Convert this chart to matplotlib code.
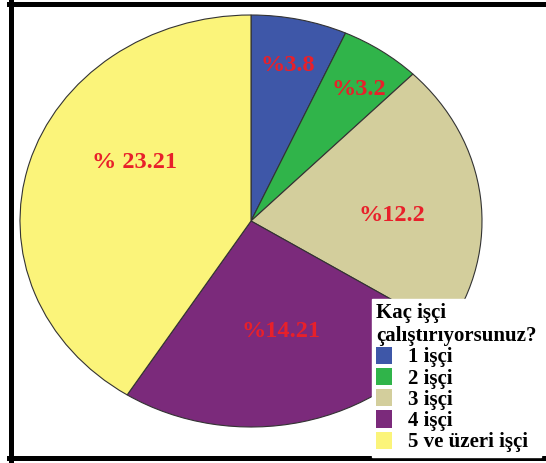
import matplotlib.pyplot as plt
import numpy as np
from matplotlib.lines import Line2D

categories = ["1 işçi", "2 işçi", "3 işçi", "4 işçi", "5 ve üzeri işçi"]
values = [3.8, 3.2, 12.2, 14.21, 23.21]
pct_labels = ["%3.8", "%3.2", "%12.2", "%14.21", "% 23.21"]
colors = ["#3e57a8", "#30b44a", "#d3ce9c", "#7b2a7b", "#fbf47a"]

# label placement: radius fraction and angle tweak (deg) per wedge
label_r = [0.77, 0.79, 0.61, 0.55, 0.58]
label_dang = [0, -2, -4, 1, -13]

W, H = 546, 463
fig = plt.figure(figsize=(W / 100, H / 100), dpi=100)
ax = fig.add_axes([20 / W, 1 - 427 / H, 462 / W, 412 / H])

wedges, _ = ax.pie(values, colors=colors, startangle=90, counterclock=False,
                   wedgeprops=dict(edgecolor="#333333", linewidth=0.8))
ax.set_aspect("auto")
ax.set_xlim(-1, 1)
ax.set_ylim(-1, 1)
ax.axis("off")

for w, txt, r, da in zip(wedges, pct_labels, label_r, label_dang):
    ang = np.deg2rad((w.theta1 + w.theta2) / 2 + da)
    ax.text(r * np.cos(ang), r * np.sin(ang), txt, ha="center", va="center",
            color="#e8202a", fontsize=17.5, fontweight="bold", family="Liberation Serif")

fp = dict(family="Liberation Serif", weight="bold", size=15)
leg = fig.legend(wedges, categories, title="Kaç işçi\nçalıştırıyorsunuz?",
                 loc="upper left", bbox_to_anchor=(372 / W, 1 - 299 / H),
                 frameon=True, fancybox=False, framealpha=1, edgecolor="white",
                 prop=fp, title_fontproperties=fp,
                 handlelength=0.75, handleheight=0.9, handletextpad=0.8,
                 labelspacing=0.02, borderpad=0.2, borderaxespad=0)
leg._legend_box.align = "left"
for h in leg.legend_handles:
    h.set_edgecolor("none")

# black frame around the figure (no right side)
lw = 3.6
fig.add_artist(Line2D([8.5 / W, 1.0], [1 - 4 / H, 1 - 4 / H], color="black", lw=lw, transform=fig.transFigure))
fig.add_artist(Line2D([11 / W, 11 / W], [1 - 2 / H, 1 - 460 / H], color="black", lw=lw, transform=fig.transFigure))
fig.add_artist(Line2D([8.5 / W, 1.0], [1 - 457.5 / H, 1 - 457.5 / H], color="black", lw=lw, transform=fig.transFigure))

fig.savefig("out.png", dpi=100)
